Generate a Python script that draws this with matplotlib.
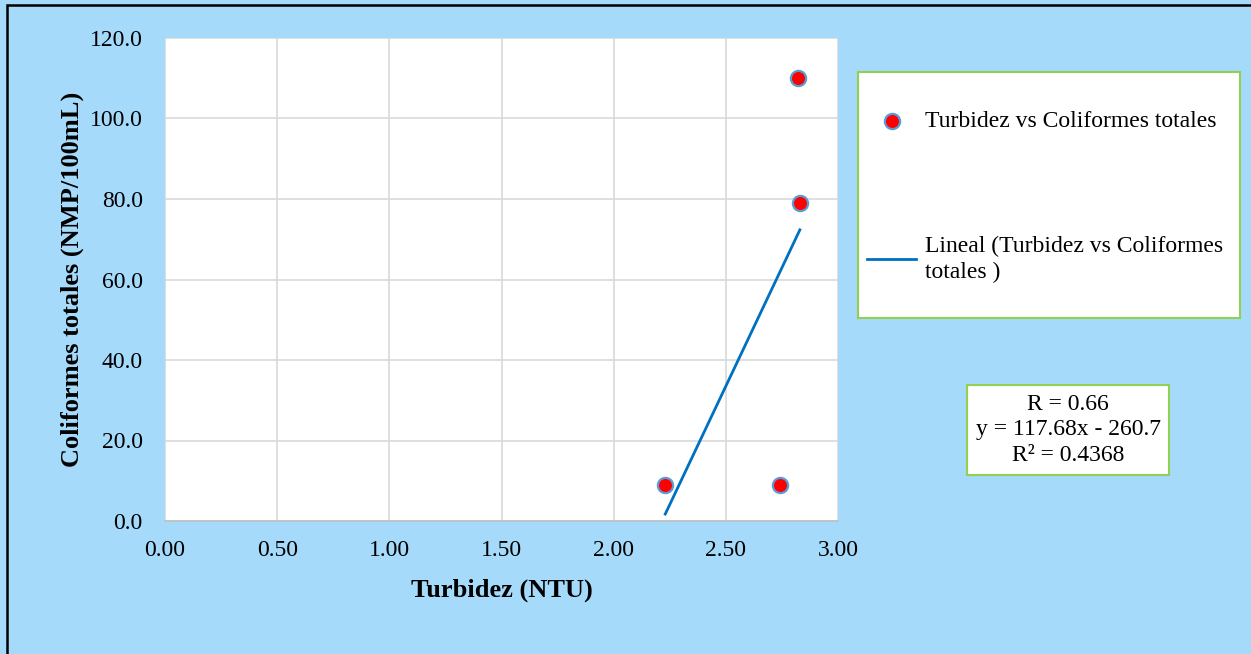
import numpy as np
import matplotlib.pyplot as plt
from matplotlib.patches import Rectangle

# data
turbidez = [2.23, 2.74, 2.82, 2.83]
coliformes = [9.0, 9.0, 110.0, 79.0]
slope = 117.68
intercept = -260.7
r_text = "R = 0.66\ny = 117.68x - 260.7\nR² = 0.4368"

plt.rcParams['font.family'] = ['Liberation Serif', 'DejaVu Serif']

bg = "#A5DAFB"
fig = plt.figure(figsize=(12.51, 6.54), dpi=100, facecolor=bg)
ax = fig.add_axes([165 / 1251, 1 - 521 / 654, (838 - 165) / 1251, (521 - 38) / 654])
ax.set_facecolor("white")

# outer border
fig.patches.append(Rectangle((7 / 1251, -0.1), 1.2, (654 - 5) / 654 + 0.1,
                             transform=fig.transFigure, fill=False,
                             edgecolor="black", linewidth=1.8))

ax.grid(True, color="#D9D9D9", linewidth=1.2)
ax.set_axisbelow(True)
for s in ax.spines.values():
    s.set_visible(False)
ax.spines['bottom'].set_visible(True)
ax.spines['bottom'].set_color("#BFBFBF")
ax.spines['bottom'].set_linewidth(1.2)

ax.scatter(turbidez, coliformes, s=120, color="red", edgecolors="#5B9BD5",
           linewidths=1.6, zorder=3, label="Turbidez vs Coliformes totales")
xs = np.array([min(turbidez), max(turbidez)])
ax.plot(xs, slope * xs + intercept, color="#0070C0", linewidth=2, zorder=2,
        label="Lineal (Turbidez vs Coliformes\ntotales )")

ax.set_xlim(0, 3)
ax.set_ylim(0, 120)
ax.set_xticks(np.arange(0, 3.01, 0.5))
ax.set_yticks(np.arange(0, 121, 20))
ax.set_xticklabels([f"{v:.2f}" for v in np.arange(0, 3.01, 0.5)])
ax.set_yticklabels([f"{v:.1f}" for v in np.arange(0, 121, 20)])
ax.tick_params(axis="y", length=0, labelsize=17, pad=16)
ax.tick_params(axis="x", length=0, labelsize=17, pad=14)

ax.set_xlabel("Turbidez (NTU)", fontsize=19, fontweight="bold", labelpad=12)
ax.set_ylabel("Coliformes totales (NMP/100mL)", fontsize=19, fontweight="bold", labelpad=4)

# legend box
lax = fig.add_axes([858 / 1251, 1 - 318 / 654, (1240 - 858) / 1251, (318 - 72) / 654])
lax.set_facecolor("white")
lax.set_xticks([])
lax.set_yticks([])
for s in lax.spines.values():
    s.set_color("#92D050")
    s.set_linewidth(1.5)
h, l = ax.get_legend_handles_labels()
leg = lax.legend(h, l, loc="upper left", bbox_to_anchor=(-0.02, 0.91), frameon=False,
                 fontsize=17, labelspacing=4.4, handlelength=2.1, handletextpad=0.35,
                 borderaxespad=0.3)
for t in leg.get_texts():
    t.set_linespacing(1.3)

# equation box
fig.text(1068 / 1251, 1 - 430 / 654, r_text, ha="center", va="center",
         fontsize=17, linespacing=1.3,
         bbox=dict(boxstyle="square,pad=0.35", facecolor="white",
                   edgecolor="#92D050", linewidth=1.5))

fig.savefig("out.png", dpi=100, facecolor=bg)
